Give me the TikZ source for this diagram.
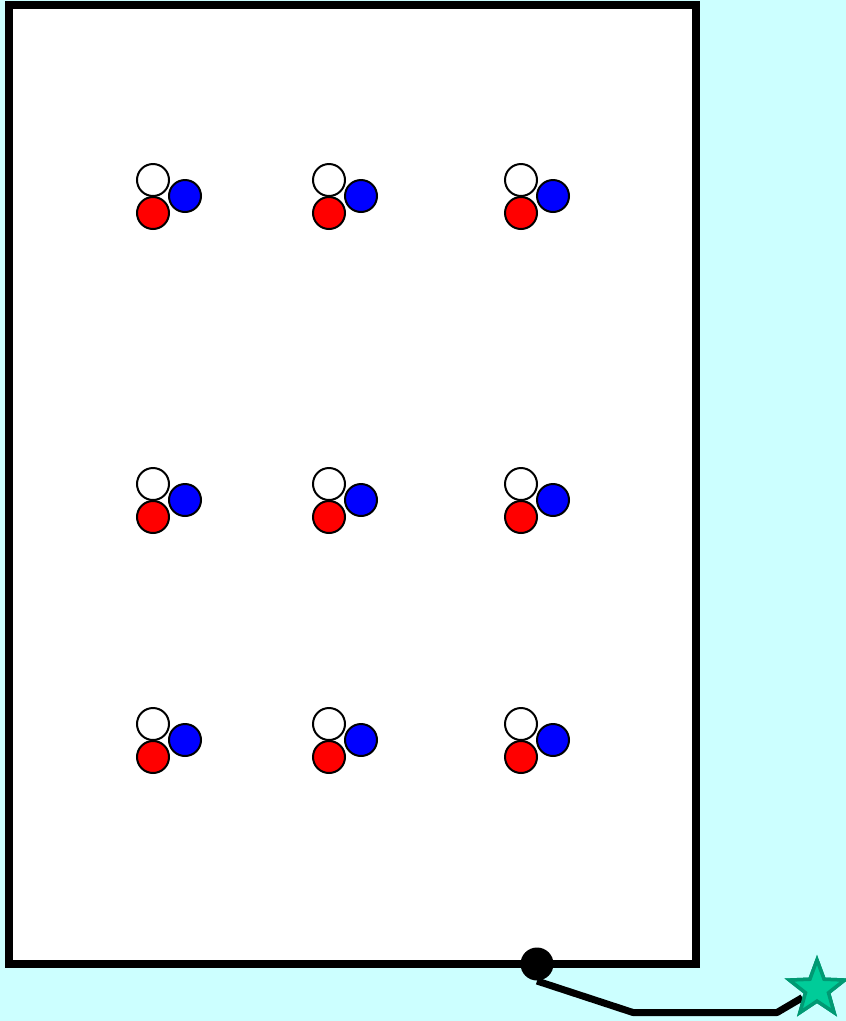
\documentclass[tikz,border=0pt]{standalone}
\usetikzlibrary{positioning,shapes.geometric}
\definecolor{skycyan}{RGB}{204,255,255}
\definecolor{starfill}{RGB}{0,204,153}
\definecolor{stardraw}{RGB}{0,153,115}
\definecolor{pblue}{RGB}{0,0,255}
\definecolor{pred}{RGB}{255,0,0}
\begin{document}
\begin{tikzpicture}[x=1pt, y=-1pt,
puck/.style={circle, draw=black, line width=2pt, minimum size=32pt, inner sep=0pt},
goalstar/.style={star, star points=5, star point ratio=2.4, minimum size=58pt, inner sep=0pt, fill=starfill, draw=stardraw, line width=3.5pt},
wall/.style={draw=black, line width=8pt},
path/.style={draw=black, line width=7pt, line join=round}]
\fill[skycyan] (0,0) rectangle (846,1021);
\useasboundingbox (0,0) rectangle (846,1021);
\filldraw[wall, fill=white] (8.5,5) rectangle (696,964);
% groups of three
\foreach \x [count=\i] in {153,329,521}
  \foreach \y [count=\j] in {180,484,724} {
    \node[puck, fill=white] (w\i\j) at (\x,\y) {};
    \node[puck, fill=pblue] (b\i\j) at (\x+32,\y+16) {};
    \node[puck, fill=pred] (r\i\j) at (\x,\y+33) {};
  }
\node[circle, fill=black, minimum size=33pt, inner sep=0pt] (dot) at (537,964) {};
\node[goalstar] (goal) at (817,989) {};
\coordinate (k1) at (633,1012.5);
\coordinate (k2) at (777,1012.5);
\draw[path] (537,981) -- (k1) -- (k2) -- (goal);
\node[goalstar] at (goal) {};
\end{tikzpicture}
\end{document}
